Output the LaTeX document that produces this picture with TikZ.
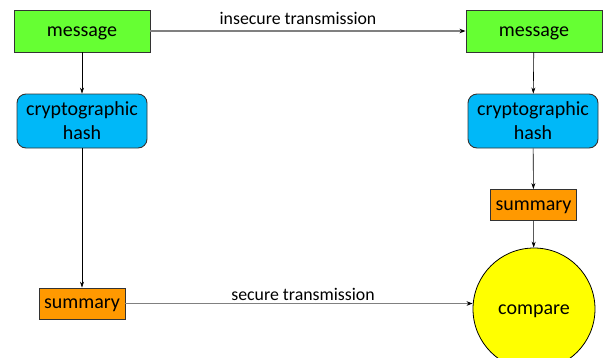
\documentclass[tikz,border=0pt]{standalone}
\usepackage{fontspec}
\setmainfont{Carlito}
\usetikzlibrary{arrows.meta}
\definecolor{msgfill}{HTML}{66FF33}
\definecolor{hashfill}{HTML}{00B8F8}
\definecolor{sumfill}{HTML}{FF9900}
\definecolor{cmpfill}{HTML}{FFFF00}
\definecolor{linegray}{HTML}{808080}
\begin{document}
\begin{tikzpicture}[x=1pt,y=-1pt,
  boxtext/.style={font=\fontsize{20}{24}\selectfont, inner sep=0pt, align=center},
  onel/.style={text height=14pt, text depth=4pt},
  msgbox/.style={boxtext, onel, draw=black!80, line width=0.9pt, fill=msgfill, minimum width=136pt, minimum height=42pt},
  hashbox/.style={boxtext, draw=black!80, line width=0.9pt, fill=hashfill, rounded corners=9pt, minimum width=130pt, minimum height=54pt},
  sumbox/.style={boxtext, onel, draw=black!80, line width=0.9pt, fill=sumfill, minimum width=86pt, minimum height=31pt},
  cmpnode/.style={boxtext, onel, circle, draw=black, line width=0.8pt, fill=cmpfill, minimum size=122pt},
  varrow/.style={draw=black, line width=0.6pt, -{Stealth[length=6pt,width=4pt]}},
  harrow/.style={draw=linegray, line width=1.3pt, -{Stealth[length=6pt,width=4.5pt,color=black]}},
  lbl/.style={font=\fontsize{17.8}{20}\selectfont, inner sep=0pt}
]
\useasboundingbox (0,0) rectangle (603,357);
\node[msgbox] (msgL) at (82,31) {message};
\node[msgbox] (msgR) at (534,31) {message};
\node[hashbox] (hashL) at (82,121) {cryptographic\\hash};
\node[hashbox] (hashR) at (533,121) {cryptographic\\hash};
\node[sumbox] (sumL) at (82,303.5) {summary};
\node[sumbox] (sumR) at (533.5,205) {summary};
\node[cmpnode] (cmp) at (534,309) {compare};
\draw[varrow] (msgL) -- (hashL);
\draw[varrow] (hashL) -- (sumL);
\draw[varrow] (msgR) -- (hashR);
\draw[varrow] (hashR) -- (sumR);
\draw[varrow] (sumR) -- (cmp);
\draw[harrow] (msgL) -- (msgR);
\draw[harrow] (sumL.east) -- (cmp.west |- sumL.east);
\node[lbl] (l1) at (298,18) {insecure transmission};
\node[lbl] (l2) at (303,294) {secure transmission};
\end{tikzpicture}
\end{document}
